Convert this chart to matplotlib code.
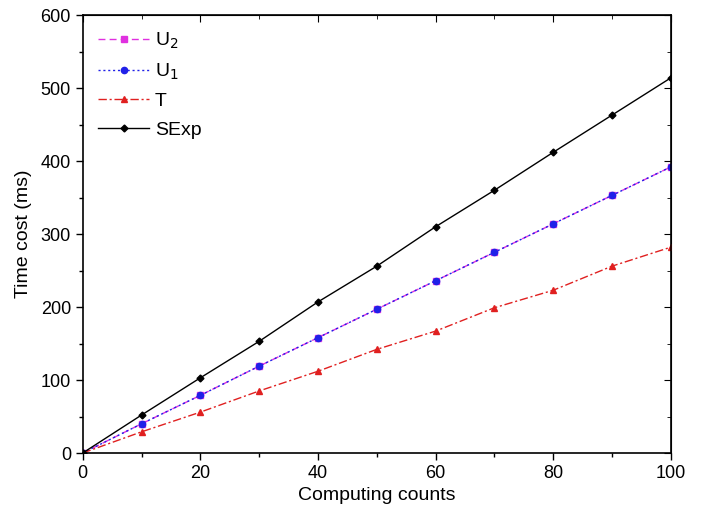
import numpy as np
import matplotlib.pyplot as plt
from matplotlib.ticker import MultipleLocator

plt.rcParams['font.family'] = ['Liberation Sans', 'DejaVu Sans']

counts = [0, 10, 20, 30, 40, 50, 60, 70, 80, 90, 100]
u2 = [0, 40, 79, 119, 158, 197, 236, 275, 314, 353, 392]
u1 = [0, 40, 79, 119, 158, 197, 236, 275, 314, 353, 392]
t = [0, 29, 56, 85, 112, 142, 167, 199, 223, 256, 282]
sexp = [0, 52, 103, 153, 207, 256, 310, 360, 412, 463, 514]

fig = plt.figure(figsize=(7.01, 5.11), dpi=100)
ax = fig.add_axes([0.118, 0.1135, 0.839, 0.857])

ax.plot(counts, u2, color='#e030e0', ls=(0, (5, 3)), lw=1, marker='s', ms=4, label='U$_2$')
ax.plot(counts, u1, color='#2020e8', ls=(0, (1.5, 2)), lw=1, marker='o', ms=4.5, label='U$_1$')
ax.plot(counts, t, color='#e02020', ls=(0, (6, 2, 1.5, 2)), lw=1, marker='^', ms=4.5, label='T')
ax.plot(counts, sexp, color='black', ls='-', lw=1, marker='D', ms=3.5, label='SExp')

ax.set_xlim(0, 100)
ax.set_ylim(0, 600)
ax.xaxis.set_major_locator(MultipleLocator(20))
ax.xaxis.set_minor_locator(MultipleLocator(10))
ax.yaxis.set_major_locator(MultipleLocator(100))
ax.yaxis.set_minor_locator(MultipleLocator(50))
ax.tick_params(which='major', direction='out', length=5, width=1, labelsize=13)
ax.tick_params(which='minor', direction='out', length=3, width=1)
for s in ax.spines.values():
    s.set_linewidth(1.2)

# mirrored ticks on top and right, pointing inward
top = ax.secondary_xaxis('top')
top.xaxis.set_major_locator(MultipleLocator(20))
top.xaxis.set_minor_locator(MultipleLocator(10))
top.tick_params(which='major', direction='in', length=5, labeltop=False)
top.tick_params(which='minor', direction='in', length=3)
right = ax.secondary_yaxis('right')
right.yaxis.set_major_locator(MultipleLocator(100))
right.yaxis.set_minor_locator(MultipleLocator(50))
right.tick_params(which='major', direction='in', length=5, labelright=False)
right.tick_params(which='minor', direction='in', length=3)

ax.set_xlabel('Computing counts', fontsize=14, labelpad=4)
ax.set_ylabel('Time cost (ms)', fontsize=14, labelpad=6)

ax.legend(loc='upper left', frameon=False, fontsize=14, handlelength=2.6,
          labelspacing=0.55, borderaxespad=0.4, handletextpad=0.3)

fig.savefig('out.png', dpi=100)
